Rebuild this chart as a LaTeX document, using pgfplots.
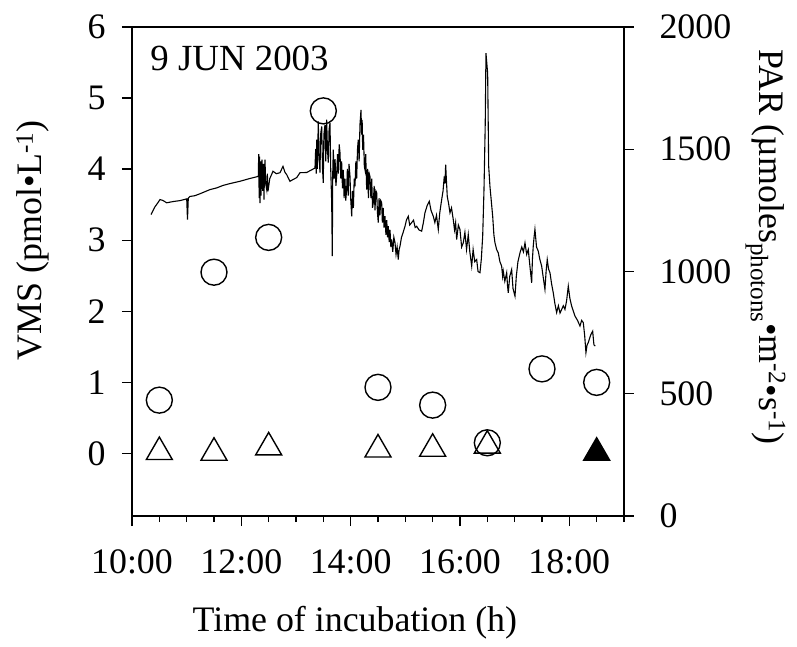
\documentclass[border=0pt]{standalone}
\usepackage{fontspec}
\setmainfont{Liberation Serif}
\usepackage{pgfplots}
\usepackage{pgfplotstable}
\pgfplotsset{compat=1.18}
\pgfplotstableread{
t PAR
10.348 1233
10.421 1265
10.470 1280
10.512 1294
10.562 1291
10.635 1281
10.750 1286
10.880 1290
11.001 1297
11.015 1212
11.030 1300
11.061 1307
11.150 1310
11.244 1318
11.330 1326
11.427 1335
11.550 1342
11.665 1352
11.800 1360
11.975 1369
12.150 1380
12.310 1389
12.318 1480
12.326 1300
12.334 1470
12.341 1280
12.350 1450
12.360 1310
12.378 1457
12.392 1330
12.405 1440
12.414 1294
12.425 1420
12.433 1457
12.445 1360
12.464 1335
12.476 1400
12.488 1328
12.520 1380
12.550 1395
12.579 1410
12.640 1400
12.707 1404
12.762 1430
12.800 1405
12.830 1396
12.890 1369
12.945 1376
13.013 1384
13.073 1404
13.196 1405
13.347 1423
13.360 1500
13.370 1400
13.378 1539
13.390 1420
13.408 1614
13.420 1480
13.439 1404
13.450 1560
13.470 1593
13.485 1420
13.499 1363
13.510 1560
13.530 1600
13.545 1450
13.561 1621
13.575 1500
13.591 1445
13.605 1580
13.622 1608
13.635 1420
13.653 1282
13.664 1063
13.672 1400
13.682 1498
13.700 1380
13.715 1460
13.730 1350
13.744 1389
13.760 1480
13.775 1400
13.790 1520
13.805 1486
13.820 1380
13.835 1450
13.850 1340
13.865 1416
13.880 1300
13.895 1380
13.910 1290
13.927 1335
13.940 1420
13.955 1310
13.970 1440
13.988 1389
14.000 1300
14.019 1226
14.035 1330
14.050 1260
14.065 1380
14.079 1348
14.095 1450
14.110 1380
14.125 1500
14.139 1539
14.155 1450
14.170 1600
14.189 1661
14.200 1560
14.210 1620
14.220 1498
14.235 1560
14.250 1430
14.262 1416
14.275 1480
14.293 1335
14.310 1420
14.325 1300
14.340 1400
14.353 1389
14.370 1300
14.385 1380
14.400 1260
14.414 1282
14.430 1350
14.445 1250
14.460 1330
14.476 1323
14.490 1240
14.505 1200
14.520 1300
14.535 1230
14.550 1290
14.567 1282
14.580 1200
14.595 1260
14.610 1180
14.628 1226
14.645 1150
14.660 1210
14.675 1140
14.688 1185
14.705 1120
14.720 1170
14.735 1100
14.750 1131
14.770 1080
14.790 1140
14.811 1118
14.830 1070
14.850 1100
14.871 1049
14.886 1090
14.902 1103
14.930 1140
14.960 1160
14.994 1185
15.020 1210
15.054 1226
15.080 1190
15.116 1200
15.150 1210
15.180 1180
15.208 1185
15.250 1170
15.299 1165
15.330 1200
15.359 1240
15.400 1270
15.438 1287
15.470 1250
15.511 1226
15.540 1200
15.570 1230
15.603 1172
15.630 1240
15.665 1294
15.690 1330
15.712 1389
15.725 1360
15.738 1437
15.750 1380
15.767 1307
15.790 1280
15.817 1240
15.845 1260
15.877 1212
15.900 1170
15.920 1200
15.939 1131
15.970 1190
15.999 1172
16.030 1100
16.060 1117
16.090 1160
16.120 1090
16.151 1151
16.180 1080
16.214 1022
16.240 1090
16.270 1040
16.305 1049
16.330 1000
16.365 995
16.390 1050
16.415 1144
16.439 1335
16.462 1607
16.475 1893
16.506 1811
16.525 1430
16.548 1348
16.598 1226
16.620 1150
16.640 1117
16.670 1090
16.700 1076
16.730 1040
16.762 1022
16.780 980
16.792 1001
16.820 960
16.854 995
16.870 940
16.883 913
16.910 980
16.945 1008
16.970 930
17.006 899
17.030 980
17.060 1040
17.097 1076
17.130 1100
17.160 1080
17.189 1117
17.220 1070
17.249 1090
17.280 1020
17.311 954
17.325 1050
17.340 1103
17.355 1140
17.371 1172
17.400 1100
17.432 1083
17.460 1050
17.494 1022
17.520 980
17.554 927
17.575 1000
17.596 1049
17.620 1010
17.646 995
17.675 950
17.706 913
17.735 870
17.768 832
17.800 860
17.830 830
17.860 845
17.890 860
17.920 845
17.950 880
17.981 940
18.010 890
18.043 858
18.070 840
18.103 818
18.150 800
18.195 777
18.225 800
18.255 791
18.280 740
18.304 668
18.325 700
18.346 709
18.390 740
18.427 756
18.450 700
18.474 695
}\partable
\begin{document}
\begin{tikzpicture}
\pgfplotsset{
  base/.style={
    width=492bp, height=489bp, scale only axis,
    xmin=10, xmax=19,
    tick align=outside,
    major tick length=10bp, minor tick length=6bp,
    axis line style={line width=1.6bp},
    every tick/.style={line width=1.4bp, black},
    tick label style={font=\fontsize{36}{40}\selectfont},
    label style={font=\fontsize{36}{40}\selectfont},
    /pgf/number format/assume math mode=true,
    /pgf/number format/1000 sep={},
  }
}
\begin{axis}[base, name=A,
  ymin=-0.88, ymax=6,
  xtick={10,12,14,16,18},
  xticklabels={10:00,12:00,14:00,16:00,18:00},
  minor xtick={10.5,11,...,19},
  ytick={0,1,2,3,4,5,6},
  xtick pos=left, ytick pos=left,
  yticklabel style={xshift=-13bp},
  xticklabel style={yshift=-20bp},
  xlabel={Time of incubation (h)},
  xlabel style={at={(axis description cs:0.453,-0.237)}, anchor=base, inner sep=0pt},
  ylabel={VMS (pmol•L\textsuperscript{-1})},
  ylabel style={at={(axis description cs:-0.183,0.564)}, anchor=base, inner sep=0pt},
]
\addplot[only marks, mark=o, mark size=13bp, line width=1.4bp] coordinates {
(10.5,0.75) (11.5,2.55) (12.5,3.04) (13.5,4.82) (14.5,0.93) (15.5,0.68) (16.5,0.15) (17.5,1.19) (18.5,1.0)};
\addplot[only marks, mark=triangle, mark size=15bp, line width=1.4bp] coordinates {
(10.5,0.02) (11.5,0.01) (12.5,0.085) (14.5,0.056) (15.5,0.066) (16.5,0.11)};
\addplot[only marks, mark=triangle*, mark size=15bp, line width=1.4bp, fill=black] coordinates {(18.5,0.01)};
\node[anchor=base west, inner sep=0pt, font=\fontsize{37}{40}\selectfont] at (rel axis cs:0.037,0.912) {9 JUN 2003};
\end{axis}
\begin{axis}[base,
  ymin=0, ymax=2000,
  axis y line*=right, axis x line=none,
  ytick={0,500,1000,1500,2000},
  yticklabel style={xshift=22bp},
  ylabel={PAR (µmoles\textsubscript{photons}•m\textsuperscript{-2}•s\textsuperscript{-1})},
  ylabel style={at={(axis description cs:1.276,0.55)}, anchor=base, rotate=180, inner sep=0pt},
]
\addplot[line width=1.1bp, black] table[x=t, y=PAR] {\partable};
\end{axis}
\pgfresetboundingbox
\path (A.south west) ++(-132bp,-131bp) rectangle ++(797bp,647bp);
\end{tikzpicture}
\end{document}
